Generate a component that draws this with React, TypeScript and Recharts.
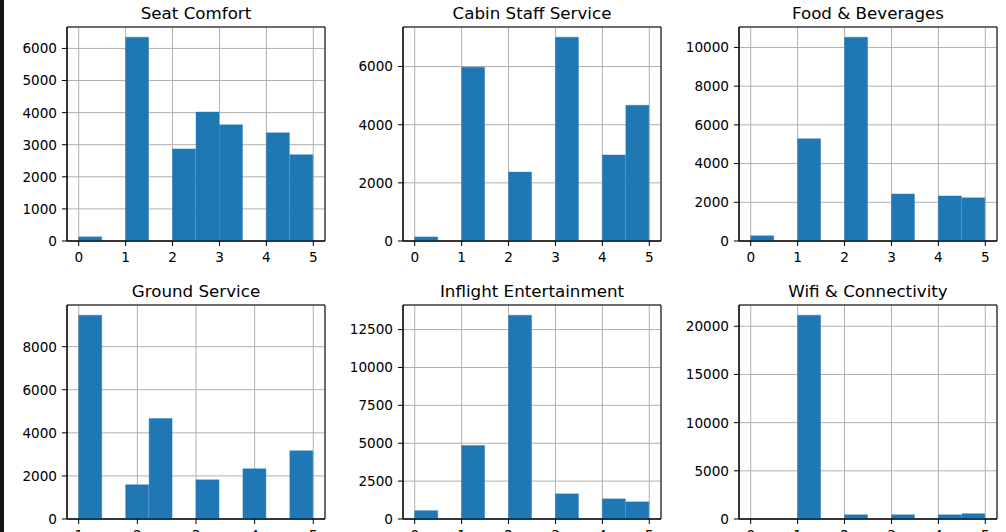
import React from 'react';
import { BarChart, Bar, XAxis, YAxis, CartesianGrid, ReferenceArea } from 'recharts';

// bin starts (categories)
const halfBinStarts = [0.0, 0.5, 1.0, 1.5, 2.0, 2.5, 3.0, 3.5, 4.0, 4.5];
const groundBinStarts = [1.0, 1.4, 1.8, 2.2, 2.6, 3.0, 3.4, 3.8, 4.2, 4.6];

// x tick labels
const ratingTicks = [0, 1, 2, 3, 4, 5];
const groundTicks = [1, 2, 3, 4, 5];

// counts per bin
const seatComfort = [130, 0, 6350, 0, 2870, 4020, 3620, 0, 3370, 2690];
const cabinStaffService = [140, 0, 5980, 0, 2370, 0, 7010, 0, 2960, 4670];
const foodBeverages = [270, 0, 5280, 0, 10530, 0, 2430, 0, 2330, 2230];
const groundService = [9460, 0, 1590, 4660, 0, 1820, 0, 2330, 0, 3170];
const inflightEntertainment = [550, 0, 4850, 0, 13450, 0, 1660, 0, 1330, 1130];
const wifiConnectivity = [0, 0, 21150, 0, 440, 0, 440, 0, 440, 550];

// y tick labels
const seatYTicks = [0, 1000, 2000, 3000, 4000, 5000, 6000];
const cabinYTicks = [0, 2000, 4000, 6000];
const foodYTicks = [0, 2000, 4000, 6000, 8000, 10000];
const groundYTicks = [0, 2000, 4000, 6000, 8000];
const inflightYTicks = [0, 2500, 5000, 7500, 10000, 12500];
const wifiYTicks = [0, 5000, 10000, 15000, 20000];

const AX_W = 258;
const AX_H = 214;
const COL_LEFT = [67, 403, 739];
const ROW_TOP = [27, 305];
const FONT = "'DejaVu Sans', sans-serif";
const BLUE = '#1f77b4';
const TICK_FS = 13.6;
const TITLE_FS = 16.7;

const panels = [
  { title: 'Seat Comfort', bins: halfBinStarts, binWidth: 0.5, counts: seatComfort, xTicks: ratingTicks, xDomain: [-0.25, 5.25], yTicks: seatYTicks, col: 0, row: 0 },
  { title: 'Cabin Staff Service', bins: halfBinStarts, binWidth: 0.5, counts: cabinStaffService, xTicks: ratingTicks, xDomain: [-0.25, 5.25], yTicks: cabinYTicks, col: 1, row: 0 },
  { title: 'Food & Beverages', bins: halfBinStarts, binWidth: 0.5, counts: foodBeverages, xTicks: ratingTicks, xDomain: [-0.25, 5.25], yTicks: foodYTicks, col: 2, row: 0 },
  { title: 'Ground Service', bins: groundBinStarts, binWidth: 0.4, counts: groundService, xTicks: groundTicks, xDomain: [0.8, 5.2], yTicks: groundYTicks, col: 0, row: 1 },
  { title: 'Inflight Entertainment', bins: halfBinStarts, binWidth: 0.5, counts: inflightEntertainment, xTicks: ratingTicks, xDomain: [-0.25, 5.25], yTicks: inflightYTicks, col: 1, row: 1 },
  { title: 'Wifi & Connectivity', bins: halfBinStarts, binWidth: 0.5, counts: wifiConnectivity, xTicks: ratingTicks, xDomain: [-0.25, 5.25], yTicks: wifiYTicks, col: 2, row: 1 },
];

function XTick(props: any) {
  const { x, y, payload } = props;
  return (
    <text x={x} y={y} dy="0.71em" textAnchor="middle" fontSize={TICK_FS} fontFamily={FONT} fill="#000">
      {payload.value}
    </text>
  );
}

function YTick(props: any) {
  const { x, y, payload } = props;
  return (
    <text x={x} y={y} dy="0.36em" textAnchor="end" fontSize={TICK_FS} fontFamily={FONT} fill="#000">
      {payload.value}
    </text>
  );
}

function Panel(props: any) {
  const { title, bins, binWidth, counts, xTicks, xDomain, yTicks, col, row } = props;
  const left = COL_LEFT[col];
  const top = ROW_TOP[row];
  const data = bins.map((b: number, i: number) => ({ bin: String(b), mid: b + binWidth / 2, count: counts[i] }));
  const ymax = Math.max(...counts) * 1.05;
  const pad = AX_W / 22;
  return (
    <>
      <div
        style={{
          position: 'absolute',
          left,
          top: top - 22,
          width: AX_W,
          textAlign: 'center',
          fontSize: TITLE_FS,
          lineHeight: 1,
          fontFamily: FONT,
          color: '#000',
          whiteSpace: 'nowrap',
        }}
      >
        {title}
      </div>
      <div style={{ position: 'absolute', left: left - 60, top: top - 5 }}>
        <BarChart
          width={60 + AX_W + 10}
          height={5 + AX_H + 40}
          data={data}
          margin={{ top: 5, right: 10, bottom: 0, left: 0 }}
          barCategoryGap={0}
          barGap={0}
        >
          <XAxis xAxisId="cat" dataKey="bin" type="category" hide height={0} padding={{ left: pad, right: pad }} />
          <XAxis
            xAxisId="num"
            dataKey="mid"
            type="number"
            domain={xDomain}
            ticks={xTicks}
            allowDataOverflow
            interval={0}
            height={40}
            stroke="#000"
            tick={<XTick />}
            tickSize={5}
            tickMargin={6}
            tickLine={{ stroke: '#000' }}
            axisLine={{ stroke: '#000' }}
          />
          <YAxis
            type="number"
            domain={[0, ymax]}
            ticks={yTicks}
            allowDataOverflow
            interval={0}
            width={60}
            stroke="#000"
            tick={<YTick />}
            tickSize={5}
            tickMargin={5}
            tickLine={{ stroke: '#000' }}
            axisLine={{ stroke: '#000' }}
          />
          <Bar xAxisId="cat" dataKey="count" fill={BLUE} stroke={BLUE} strokeWidth={0.4} isAnimationActive={false} />
          <CartesianGrid xAxisId="num" stroke="#b0b0b0" strokeWidth={1} />
          <ReferenceArea
            xAxisId="num"
            x1={xDomain[0]}
            x2={xDomain[1]}
            y1={0}
            y2={ymax}
            fill="none"
            fillOpacity={0}
            stroke="#000"
            strokeWidth={1}
            ifOverflow="visible"
          />
        </BarChart>
      </div>
    </>
  );
}

export default function App() {
  return (
    <div
      style={{
        position: 'absolute',
        left: 0,
        top: 0,
        width: 1006,
        height: 532,
        background: '#fff',
        overflow: 'hidden',
        fontFamily: FONT,
      }}
    >
      <div style={{ position: 'absolute', left: 0, top: 0, width: 4, height: 532, background: '#161616' }} />
      {panels.map((p) => (
        <Panel key={p.title} {...p} />
      ))}
    </div>
  );
}
